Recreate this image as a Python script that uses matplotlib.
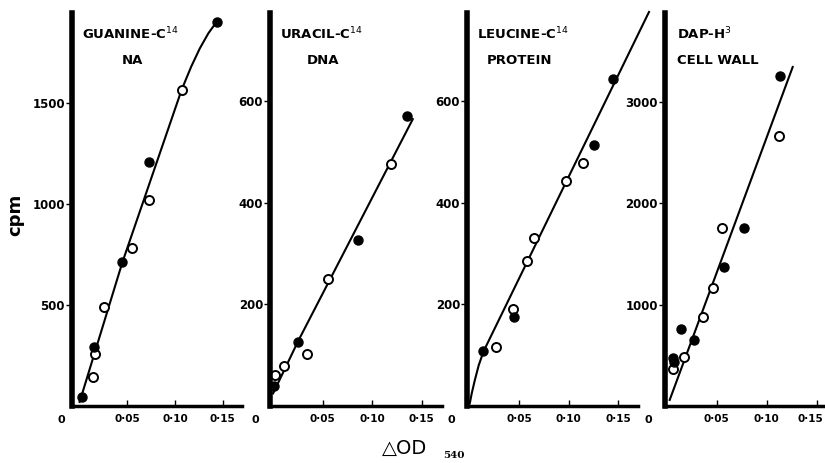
import matplotlib
matplotlib.use("Agg")
from matplotlib import pyplot as plt
from matplotlib.transforms import ScaledTranslation

# guanine-C14 -> NA
gua_open_x = [0.107, 0.0731, 0.0552, 0.0259, 0.0161, 0.014]
gua_open_y = [1566, 1021, 780, 490, 256, 142]
gua_fill_x = [0.1437, 0.0731, 0.0448, 0.0148, 0.002]
gua_fill_y = [1902, 1209, 711, 290, 43]
gua_fit_x = [0.0, 0.0448, 0.107, 0.117, 0.126, 0.135, 0.1437]
gua_fit_y = [20, 711, 1566, 1680, 1770, 1845, 1902]

# uracil-C14 -> DNA
ura_open_x = [0.119, 0.055, 0.0344, 0.0112, 0.002]
ura_open_y = [477, 250, 102, 79, 61]
ura_fill_x = [0.1348, 0.086, 0.0247, 0.001]
ura_fill_y = [571, 326, 127, 40]
ura_fit_x = [0.0, 0.025, 0.141]
ura_fit_y = [25, 127, 565]

# leucine-C14 -> protein
leu_open_x = [0.1143, 0.0972, 0.0648, 0.0581, 0.0439, 0.0265]
leu_open_y = [479, 443, 330, 285, 191, 116]
leu_fill_x = [0.1443, 0.1255, 0.0446, 0.0137]
leu_fill_y = [644, 515, 175, 108]
leu_fit_x = [0.0, 0.002, 0.005, 0.009, 0.014, 0.181]
leu_fit_y = [5, 25, 50, 80, 108, 776]

# DAP-H3 -> cell wall
dap_open_x = [0.112, 0.0557, 0.0467, 0.0367, 0.0177, 0.0066]
dap_open_y = [2657, 1756, 1159, 880, 479, 364]
dap_fill_x = [0.1133, 0.0777, 0.0573, 0.0273, 0.0143, 0.006, 0.007]
dap_fill_y = [3247, 1756, 1366, 650, 758, 470, 430]
dap_fit_x = [0.003, 0.126]
dap_fit_y = [60, 3340]

panels = [
    ("GUANINE-C$^{14}$", "NA", gua_open_x, gua_open_y, gua_fill_x, gua_fill_y,
     gua_fit_x, gua_fit_y, [500, 1000, 1500], (-0.008, 0.1702), 1945),
    ("URACIL-C$^{14}$", "DNA", ura_open_x, ura_open_y, ura_fill_x, ura_fill_y,
     ura_fit_x, ura_fit_y, [200, 400, 600], (-0.0032, 0.1705), 774),
    ("LEUCINE-C$^{14}$", "PROTEIN", leu_open_x, leu_open_y, leu_fill_x, leu_fill_y,
     leu_fit_x, leu_fit_y, [200, 400, 600], (-0.0028, 0.1699), 774),
    ("DAP-H$^{3}$", "CELL WALL", dap_open_x, dap_open_y, dap_fill_x, dap_fill_y,
     dap_fit_x, dap_fit_y, [1000, 2000, 3000], (-0.0017, 0.1563), 3872),
]

# axes boxes in figure pixels (left, width)
boxes = [(72, 170), (270, 172), (467, 171), (665, 158)]
# title placement: (x of line 1 left, x of line 2 centre)
title_pos = [(82, 132), (280, 323), (477, 519), (677, 718)]

W, H = 825, 463
fig = plt.figure(figsize=(W / 100, H / 100), dpi=100)

for i, (t1, t2, ox, oy, fx, fy, cx, cy, yt, xl, ytop) in enumerate(panels):
    left, width = boxes[i]
    ax = fig.add_axes([left / W, 57 / H, width / W, 393 / H])
    ax.set_xlim(*xl)
    ax.set_ylim(0, ytop)
    for s in ["top", "right"]:
        ax.spines[s].set_visible(False)
    ax.spines["left"].set_linewidth(4)
    ax.spines["bottom"].set_linewidth(2.5)

    ax.plot(cx, cy, color="black", lw=1.5, clip_on=False)
    ax.plot(ox, oy, "o", mfc="white", mec="black", ms=6.5, mew=1.4, clip_on=False)
    ax.plot(fx, fy, "o", mfc="black", mec="black", ms=6.5, clip_on=False)

    ax.set_yticks(yt)
    ax.set_yticklabels([str(v) for v in yt], fontsize=8.5, fontweight="bold")
    ax.tick_params(axis="y", direction="out", length=4, width=1, pad=1)
    ax.set_xticks([0.05, 0.10, 0.15])
    ax.set_xticklabels(["0·05", "0·10", "0·15"], fontsize=7.5, fontweight="bold")
    ax.tick_params(axis="x", direction="in", length=4, width=1, pad=6)
    ax.annotate("0", xy=(0, 0), xycoords=("data", "axes fraction"),
                xytext=(-18, -14), textcoords="offset pixels",
                ha="center", va="center", fontsize=8, fontweight="bold")

    tx1, tx2 = title_pos[i]
    fig.text(tx1 / W, 1 - 34 / H, t1, ha="left", va="center",
             fontsize=9.5, fontweight="bold")
    fig.text(tx2 / W, 1 - 61 / H, t2, ha="center", va="center",
             fontsize=9.5, fontweight="bold")

    if i == len(panels) - 1:
        # last label sits right at the figure edge, nudge it in
        lab = ax.get_xticklabels()[-1]
        lab.set_transform(lab.get_transform()
                          + ScaledTranslation(-6 / 100, 0, fig.dpi_scale_trans))

fig.text(15 / W, 1 - 215 / H, "cpm", rotation=90, ha="center", va="center",
         fontsize=13, fontweight="bold")
fig.text(405 / W, 1 - 448 / H, "△OD", ha="center", va="center", fontsize=14)
fig.text(443 / W, 1 - 456 / H, "540", ha="left", va="center",
         fontsize=7.5, fontweight="bold", family="DejaVu Serif")

fig.savefig("out.png", dpi=100)
